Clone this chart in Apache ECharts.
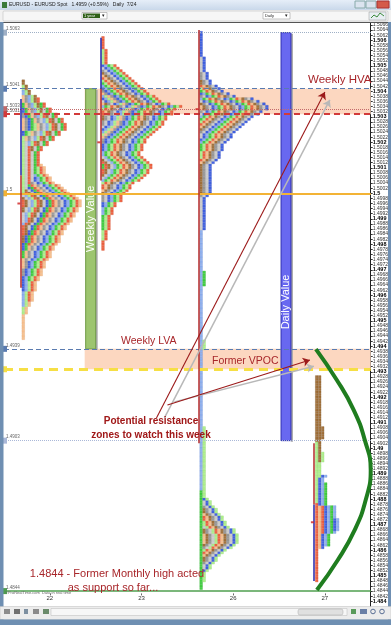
<!DOCTYPE html>
<html><head><meta charset="utf-8">
<script src="https://cdn.jsdelivr.net/npm/echarts@6/dist/echarts.min.js"></script>
<style>html,body{margin:0;padding:0;background:#fff}#c{width:391px;height:625px}</style>
</head><body><div id="c"></div>
<script>
// ---------------- DATA ----------------
const days = ['22', '23', '26', '27'];
// TPO periods per session: [time slot, high, low]
const day22Periods = [
  [0, 1.4997, 1.4995], [1, 1.5029, 1.5025], [2, 1.4998, 1.4993], [3, 1.5031, 1.5025],
  [4, 1.4999, 1.4989], [5, 1.5033, 1.5023], [6, 1.4999, 1.4988], [7, 1.5035, 1.5023],
  [8, 1.5027, 1.4991], [9, 1.5000, 1.4984], [10, 1.5038, 1.5021], [11, 1.5001, 1.4981],
  [12, 1.5038, 1.5021], [13, 1.5029, 1.4986], [14, 1.5002, 1.4978], [15, 1.5040, 1.5019],
  [16, 1.5003, 1.4975], [17, 1.5042, 1.5019], [18, 1.5031, 1.4980], [19, 1.5003, 1.4971],
  [20, 1.5044, 1.5017], [21, 1.5004, 1.4968], [22, 1.5033, 1.4974], [23, 1.5006, 1.4962],
  [24, 1.5007, 1.4956], [25, 1.5035, 1.4966], [26, 1.5010, 1.4953], [27, 1.5037, 1.4958],
  [28, 1.5011, 1.4943]
];
const day23Periods = [
  [0, 1.5034, 1.5034], [1, 1.5034, 1.5034], [2, 1.5034, 1.5033], [3, 1.5034, 1.5031],
  [4, 1.5035, 1.5031], [5, 1.5035, 1.5029], [6, 1.5035, 1.5027], [7, 1.5036, 1.5026],
  [8, 1.5037, 1.5025], [9, 1.5038, 1.5024], [10, 1.5011, 1.5010], [11, 1.5038, 1.5023],
  [12, 1.5012, 1.5008], [13, 1.5039, 1.5022], [14, 1.5013, 1.5007], [15, 1.5040, 1.5020],
  [16, 1.5014, 1.5006], [17, 1.5041, 1.5017], [18, 1.5042, 1.5005], [19, 1.5043, 1.5005],
  [20, 1.5044, 1.5004], [21, 1.5045, 1.5002], [22, 1.5046, 1.5001], [23, 1.5047, 1.5000],
  [24, 1.5048, 1.4997], [25, 1.5049, 1.4997], [26, 1.5050, 1.4995], [27, 1.5050, 1.4992],
  [28, 1.5050, 1.4986], [29, 1.5056, 1.4982], [30, 1.5061, 1.4978]
];
const day26Periods = [
  [0, 1.5034, 1.5033], [1, 1.5035, 1.5033], [2, 1.5035, 1.5032], [3, 1.5036, 1.5031],
  [4, 1.5036, 1.5031], [5, 1.5037, 1.5030], [6, 1.5037, 1.5029], [7, 1.5037, 1.5028],
  [8, 1.5037, 1.5027], [9, 1.5037, 1.5026], [10, 1.5037, 1.5025], [11, 1.5038, 1.5024],
  [12, 1.5038, 1.5022], [13, 1.5039, 1.5021], [14, 1.5039, 1.5020], [15, 1.5040, 1.5017],
  [16, 1.5041, 1.5014], [17, 1.5042, 1.5013], [18, 1.5042, 1.5012], [19, 1.5044, 1.5000],
  [20, 1.5047, 1.4999], [21, 1.5053, 1.4986], [22, 1.5063, 1.4986],
  [23, 1.4985, 1.4927], [24, 1.4969, 1.4964], [25, 1.4942, 1.4939], [32, 1.4926, 1.4884],
  [34, 1.4908, 1.4884], [42, 1.4883, 1.4845],
  [45, 1.4866, 1.4863], [46, 1.4868, 1.4862], [47, 1.4868, 1.4861], [48, 1.4869, 1.4861],
  [52, 1.4871, 1.4860], [53, 1.4873, 1.4859], [54, 1.4874, 1.4858], [55, 1.4876, 1.4856],
  [56, 1.4877, 1.4855], [57, 1.4879, 1.4853], [58, 1.4880, 1.4852], [61, 1.4883, 1.4848]
];
const day27Periods = [
  [2, 1.4928, 1.4903], [11, 1.4928, 1.4904], [17, 1.4902, 1.4889], [20, 1.4908, 1.4895],
  [26, 1.4898, 1.4879], [27, 1.4878, 1.4848], [28, 1.4877, 1.4861], [36, 1.4877, 1.4867],
  [41, 1.4889, 1.4861], [42, 1.4889, 1.4862], [43, 1.4886, 1.4862], [50, 1.4872, 1.4868],
  [51, 1.4877, 1.4867]
];
// session range lines: [high, low]
const upperRangeLines = [[1.5037, 1.5007], [1.5061, 1.5041], null, [1.4878, 1.4848]];
const lowerRangeLines = [[1.5007, 1.4963], [1.5041, 1.5005], [1.5064, 1.4902], [1.4902, 1.4878]];
const opens = [1.4996, 1.5020, 1.5033, 1.4871];
// horizontal levels
const levels = [1.5063, 1.5041, 1.5033, 1.5031, 1.5, 1.4939, 1.4931, 1.4903, 1.4844];
// value areas
const valueBarNames = ['Weekly Value', 'Daily Value'];
const valueBarHigh = [1.5041, 1.5063];
const valueBarLow = [1.4939, 1.4903];
// zones: [high, low]
const zoneHigh = [1.5041, 1.4939];
const zoneLow = [1.5031, 1.4931];
// callout arrows: [x1, price1, x2, price2]
const redCallouts = [[1.163, 1.49119, 3.000, 1.50397], [1.283, 1.49170, 2.837, 1.49346]];
const grayCallouts = [[1.250, 1.49119, 3.054, 1.50366], [1.359, 1.49182, 2.880, 1.49322]];
// support curve points [x, price]
const curveX = [2.902, 3.130, 3.315, 3.435, 3.500, 3.446, 3.326, 3.141, 2.913];
const curveP = [1.49389, 1.49268, 1.49150, 1.49033, 1.48915, 1.48798, 1.48680, 1.48562, 1.48444];

// ---------------- LAYOUT / STYLE ----------------
const palette = ['#f26646', '#f9c391', '#a8773f', '#9e9e9e', '#d2d2d2', '#4566e6', '#93b4f2', '#45d645', '#b4f592'];
const edge = ['#d24a2c', '#e2a470', '#7f5526', '#7a7a7a', '#b0b0b0', '#2c48c0', '#6f92d6', '#2aa82a', '#8bd26a'];
const colorOffset = [0, 6, 1, 0];
const TICK = 0.0001;
const BW = 3 / 92;
const origins = [-0.3043, 0.5652, 1.6359, 2.8967];
const lineX = [-0.3174, 0.5543, 1.625, 2.884];
const barX = [[0.391, 0.5], [2.522, 2.630]];
const barTextFrac = [0.5, 0.66];
const barFill = ['#9dc56f', '#6868f0'];
const barStroke = ['#6f9a45', '#2e2eb4'];
const FONT = '"Liberation Sans", Arial, sans-serif';

function buildBlocks(periods, x0, off) {
  const out = [];
  let hi = -Infinity, lo = Infinity;
  periods.forEach(p => { hi = Math.max(hi, Math.round(p[1] / TICK)); lo = Math.min(lo, Math.round(p[2] / TICK)); });
  for (let t = lo; t <= hi; t++) {
    const cover = periods.filter(p => Math.round(p[2] / TICK) <= t && t <= Math.round(p[1] / TICK))
      .sort((a, b) => a[0] - b[0]);
    cover.forEach((p, c) => out.push([x0 + c * BW, t * TICK, (p[0] + off) % palette.length]));
  }
  return out;
}
const allPeriods = [day22Periods, day23Periods, day26Periods, day27Periods];
let blocks = [];
allPeriods.forEach((ps, i) => { blocks = blocks.concat(buildBlocks(ps, origins[i], colorOffset[i])); });

const levelStyles = [
  { color: '#9fb0c6', type: 'dotted', width: 1, label: true },
  { color: '#5a7bb0', type: [5, 3], width: 1, label: true },
  { color: '#c46a6a', type: 'dotted', width: 1, label: true },
  { color: '#d23a3a', type: [6, 4], width: 2, label: true },
  { color: '#f3b335', type: 'solid', width: 2, label: true, sym: ['none', 'arrow'] },
  { color: '#5a7bb0', type: [5, 3], width: 1, label: true },
  { color: '#f6df45', type: [9, 6], width: 3, label: false },
  { color: '#aab8d8', type: 'dotted', width: 1, label: true },
  { color: '#4f9f4f', type: 'solid', width: 1.5, label: true, sym: ['arrow', 'arrow'] }
];

const chart = echarts.init(document.getElementById('c'), null, { renderer: 'canvas' });
const option = {
  animation: false,
  backgroundColor: '#ffffff',
  grid: { left: 4, right: 19, top: 22.45, bottom: 18.6, containLabel: false },
  xAxis: [
    { type: 'value', min: -0.5, max: 3.5, show: false },
    {
      type: 'category', data: days, position: 'bottom', offset: -13, boundaryGap: true,
      axisLine: { show: false },
      axisTick: { show: true, alignWithLabel: true, length: 2, lineStyle: { color: '#666' } },
      axisLabel: { fontSize: 6, color: '#333', margin: 2, fontFamily: FONT },
      splitLine: { show: false }
    }
  ],
  yAxis: {
    type: 'value', position: 'right', min: 1.4838, max: 1.5067, interval: 0.0002, scale: true,
    axisLine: { show: true, onZero: false, lineStyle: { color: '#222', width: 1 } },
    axisTick: { show: true, length: 2, lineStyle: { color: '#333' } },
    splitLine: { show: false },
    axisLabel: {
      showMaxLabel: false, showMinLabel: false, margin: 2, fontSize: 5, color: '#333', fontFamily: FONT,
      formatter: v => {
        const t = Math.round(v * 10000);
        if (t % 10 === 0) return '{b|' + (t / 10000).toString() + '}';
        return (t / 10000).toFixed(4);
      },
      rich: { b: { fontWeight: 'bold', fontSize: 5.5, color: '#000', fontFamily: FONT } }
    }
  },
  series: [
    {
      name: 'zones', type: 'line', z: 1, data: [[-0.5, 1.4838]], symbol: 'none', lineStyle: { opacity: 0 },
      markArea: {
        silent: true, itemStyle: { color: '#fcd7c0' },
        data: zoneHigh.map((h, i) => [{ coord: [0.38, h] }, { coord: [3.5, zoneLow[i]] }])
      }
    },
    {
      name: 'profiles', type: 'custom', z: 2, data: blocks, encode: { x: 0, y: 1 },
      renderItem: (params, api) => {
        const x = api.value(0), p = api.value(1), ci = api.value(2);
        const tl = api.coord([x, p + TICK / 2]);
        const br = api.coord([x + BW, p - TICK / 2]);
        return {
          type: 'rect',
          shape: { x: tl[0], y: tl[1], width: br[0] - tl[0] - 0.35, height: br[1] - tl[1] - 0.3 },
          style: { fill: palette[ci], stroke: edge[ci], lineWidth: 0.35 }
        };
      }
    },
    {
      name: 'levels', type: 'line', z: 3, data: [[-0.5, 1.4838]], symbol: 'none', lineStyle: { opacity: 0 },
      markLine: {
        silent: true, symbol: ['none', 'none'], symbolSize: 6, precision: 4,
        data: levels.map((v, i) => ({
          yAxis: v,
          symbol: levelStyles[i].sym || ['none', 'none'],
          lineStyle: { color: levelStyles[i].color, type: levelStyles[i].type, width: levelStyles[i].width },
          label: {
            show: levelStyles[i].label, position: 'insideStartTop', distance: [2, 1],
            formatter: String(v), fontSize: 4.5, color: '#666', fontFamily: FONT
          }
        }))
      }
    },
    {
      name: 'valueBars', type: 'custom', z: 4,
      data: valueBarHigh.map((h, i) => [i, h, valueBarLow[i]]),
      renderItem: (params, api) => {
        const i = api.value(0);
        const tl = api.coord([barX[i][0], api.value(1)]);
        const br = api.coord([barX[i][1], api.value(2)]);
        const w = br[0] - tl[0], h = br[1] - tl[1];
        return {
          type: 'group', children: [
            { type: 'rect', shape: { x: br[0], y: tl[1] + 1, width: 2, height: h }, style: { fill: '#a9a9a9' } },
            { type: 'rect', shape: { x: tl[0], y: tl[1], width: w, height: h }, style: { fill: barFill[i], stroke: barStroke[i], lineWidth: 1 } },
            {
              type: 'text', x: tl[0] + w / 2, y: tl[1] + h * barTextFrac[i], rotation: Math.PI / 2,
              style: { text: valueBarNames[i], fill: '#ffffff', font: '11px ' + FONT, align: 'center', verticalAlign: 'middle' }
            }
          ]
        };
      }
    },
    {
      name: 'upperRange', type: 'lines', coordinateSystem: 'cartesian2d', z: 5, polyline: false,
      symbol: ['none', 'none'],
      lineStyle: { color: '#2424a8', width: 1.5, opacity: 1 },
      data: upperRangeLines.map((r, i) => r ? { coords: [[lineX[i], r[0]], [lineX[i], r[1]]] } : null).filter(Boolean)
    },
    {
      name: 'lowerRange', type: 'lines', coordinateSystem: 'cartesian2d', z: 5, polyline: false,
      symbol: ['none', 'none'],
      lineStyle: { color: '#b42a2a', width: 1.5, opacity: 1 },
      data: lowerRangeLines.map((r, i) => ({ coords: [[lineX[i], r[0]], [lineX[i], r[1]]] }))
    },
    {
      name: 'opens', type: 'scatter', z: 5, symbol: 'rect', symbolSize: [3, 2],
      itemStyle: { color: '#d02020' },
      data: opens.map((o, i) => [lineX[i] - 0.02, o])
    },
    {
      name: 'grayCallouts', type: 'lines', coordinateSystem: 'cartesian2d', z: 6,
      symbol: ['none', 'arrow'], symbolSize: 7,
      lineStyle: { color: '#b8b8b8', width: 1.5, opacity: 1 },
      data: grayCallouts.map(c => ({ coords: [[c[0], c[1]], [c[2], c[3]]] }))
    },
    {
      name: 'redCallouts', type: 'lines', coordinateSystem: 'cartesian2d', z: 6,
      symbol: ['none', 'arrow'], symbolSize: 7,
      lineStyle: { color: '#9c1a1a', width: 1.1, opacity: 1 },
      data: redCallouts.map(c => ({ coords: [[c[0], c[1]], [c[2], c[3]]] }))
    },
    {
      name: 'curve', type: 'line', z: 6, smooth: true, symbol: 'none', clip: false,
      lineStyle: { color: '#1f7d1f', width: 4 },
      data: curveX.map((x, i) => [x, curveP[i]])
    }
  ],
  graphic: [
    { type: 'rect', z: 100, shape: { x: 0, y: 0, width: 391, height: 10 }, style: { fill: new echarts.graphic.LinearGradient(0, 0, 0, 1, [{ offset: 0, color: '#e6eef8' }, { offset: 1, color: '#c9d8ea' }]) } },
    { type: 'rect', z: 101, shape: { x: 2, y: 2, width: 5, height: 6 }, style: { fill: '#3a7a3a' } },
    { type: 'text', z: 101, x: 9, y: 5, style: { text: 'EURUSD - EURUSD Spot   1.4959 (+0.59%)   Daily  7/24', font: '5px ' + FONT, fill: '#222', verticalAlign: 'middle' } },
    { type: 'rect', z: 101, shape: { x: 355, y: 1, width: 10, height: 7 }, style: { fill: '#dbe4ef', stroke: '#8aa' } },
    { type: 'rect', z: 101, shape: { x: 366, y: 1, width: 10, height: 7 }, style: { fill: '#dbe4ef', stroke: '#8aa' } },
    { type: 'rect', z: 101, shape: { x: 377, y: 1, width: 12, height: 7 }, style: { fill: '#d45a4a', stroke: '#a33' } },
    { type: 'rect', z: 100, shape: { x: 0, y: 10, width: 391, height: 12 }, style: { fill: '#f1f1f1' } },
    { type: 'rect', z: 101, shape: { x: 3, y: 11, width: 385, height: 10, r: 1 }, style: { fill: '#f6f6f6', stroke: '#b5b5b5', lineWidth: 0.5 } },
    { type: 'rect', z: 102, shape: { x: 82, y: 12.5, width: 25, height: 6.5 }, style: { fill: '#fff', stroke: '#888', lineWidth: 0.5 } },
    { type: 'rect', z: 103, shape: { x: 83, y: 13.5, width: 17, height: 4.5 }, style: { fill: '#2f5f16' } },
    { type: 'text', z: 104, x: 84, y: 15.8, style: { text: '1 year', font: '4px ' + FONT, fill: '#fff', verticalAlign: 'middle' } },
    { type: 'text', z: 104, x: 102, y: 15.8, style: { text: '▾', font: '5px ' + FONT, fill: '#222', verticalAlign: 'middle' } },
    { type: 'rect', z: 102, shape: { x: 263, y: 12.5, width: 27, height: 6.5 }, style: { fill: '#fff', stroke: '#888', lineWidth: 0.5 } },
    { type: 'text', z: 104, x: 265, y: 15.8, style: { text: 'Daily', font: '4px ' + FONT, fill: '#222', verticalAlign: 'middle' } },
    { type: 'text', z: 104, x: 285, y: 15.8, style: { text: '▾', font: '5px ' + FONT, fill: '#222', verticalAlign: 'middle' } },
    { type: 'rect', z: 102, shape: { x: 369, y: 12, width: 17, height: 8 }, style: { fill: '#e8eef2', stroke: '#999', lineWidth: 0.5 } },
    { type: 'polyline', z: 103, shape: { points: [[371, 18], [374, 15], [377, 17], [380, 13], [384, 16]] }, style: { stroke: '#3a8a3a', lineWidth: 1, fill: null } },
    { type: 'line', z: 100, shape: { x1: 3, y1: 22.5, x2: 388, y2: 22.5 }, style: { stroke: '#555', lineWidth: 1 } },
    { type: 'rect', z: 100, shape: { x: 0, y: 22, width: 3.5, height: 598 }, style: { fill: '#6f8fb2' } },
    { type: 'rect', z: 100, shape: { x: 388, y: 22, width: 3, height: 598 }, style: { fill: '#6f8fb2' } },
    { type: 'rect', z: 100, shape: { x: 0, y: 606.5, width: 391, height: 13 }, style: { fill: '#ececec', stroke: '#bdbdbd', lineWidth: 0.5 } },
    { type: 'rect', z: 101, shape: { x: 4, y: 609, width: 6, height: 5 }, style: { fill: '#8c8c8c' } },
    { type: 'rect', z: 101, shape: { x: 14, y: 609, width: 6, height: 5 }, style: { fill: '#707070' } },
    { type: 'rect', z: 101, shape: { x: 24, y: 609, width: 4, height: 5 }, style: { fill: '#7d8fa0' } },
    { type: 'rect', z: 101, shape: { x: 33, y: 609, width: 6, height: 5 }, style: { fill: '#8a8a8a' } },
    { type: 'rect', z: 101, shape: { x: 43, y: 609, width: 6, height: 5 }, style: { fill: '#6a8a6a' } },
    { type: 'rect', z: 101, shape: { x: 51, y: 608.5, width: 296, height: 7 }, style: { fill: '#f7f7f7', stroke: '#bbb', lineWidth: 0.5 } },
    { type: 'rect', z: 102, shape: { x: 298, y: 609, width: 45, height: 6, r: 2 }, style: { fill: '#e0e0e0', stroke: '#aaa', lineWidth: 0.5 } },
    { type: 'rect', z: 101, shape: { x: 351, y: 609, width: 5, height: 5 }, style: { fill: '#5a9a5a' } },
    { type: 'rect', z: 101, shape: { x: 360, y: 609, width: 7, height: 5 }, style: { fill: '#6a7fa5' } },
    { type: 'circle', z: 101, shape: { cx: 373, cy: 611.5, r: 2.3 }, style: { fill: 'none', stroke: '#5a6f95', lineWidth: 1 } },
    { type: 'circle', z: 101, shape: { cx: 382, cy: 611.5, r: 2.3 }, style: { fill: 'none', stroke: '#5a6f95', lineWidth: 1 } },
    { type: 'rect', z: 100, shape: { x: 0, y: 619.5, width: 391, height: 5.5 }, style: { fill: '#6f8fb2' } },
    { type: 'text', z: 110, x: 5, y: 593, style: { text: '©ProRealTime.com  Data in real time', font: '4px ' + FONT, fill: '#666', verticalAlign: 'middle' } },
    { type: 'text', z: 110, x: 308, y: 80, style: { text: 'Weekly HVA', font: '11.5px ' + FONT, fill: '#a8262a', verticalAlign: 'middle' } },
    { type: 'text', z: 110, x: 121, y: 341, style: { text: 'Weekly LVA', font: '10.5px ' + FONT, fill: '#a8262a', verticalAlign: 'middle' } },
    { type: 'text', z: 110, x: 212, y: 361, style: { text: 'Former VPOC', font: '10.5px ' + FONT, fill: '#a8262a', verticalAlign: 'middle' } },
    { type: 'text', z: 110, x: 151, y: 421, style: { text: 'Potential resistance', font: 'bold 10px ' + FONT, fill: '#a01818', align: 'center', verticalAlign: 'middle' } },
    { type: 'text', z: 110, x: 151, y: 435, style: { text: 'zones to watch this week', font: 'bold 10px ' + FONT, fill: '#a01818', align: 'center', verticalAlign: 'middle' } },
    { type: 'text', z: 110, x: 117, y: 574, style: { text: '1.4844 - Former Monthly high acted', font: '11px ' + FONT, fill: '#a8262a', align: 'center', verticalAlign: 'middle' } },
    { type: 'text', z: 110, x: 113, y: 588, style: { text: 'as support so far...', font: '11px ' + FONT, fill: '#a8262a', align: 'center', verticalAlign: 'middle' } }
  ]
};
chart.setOption(option);
</script></body></html>
